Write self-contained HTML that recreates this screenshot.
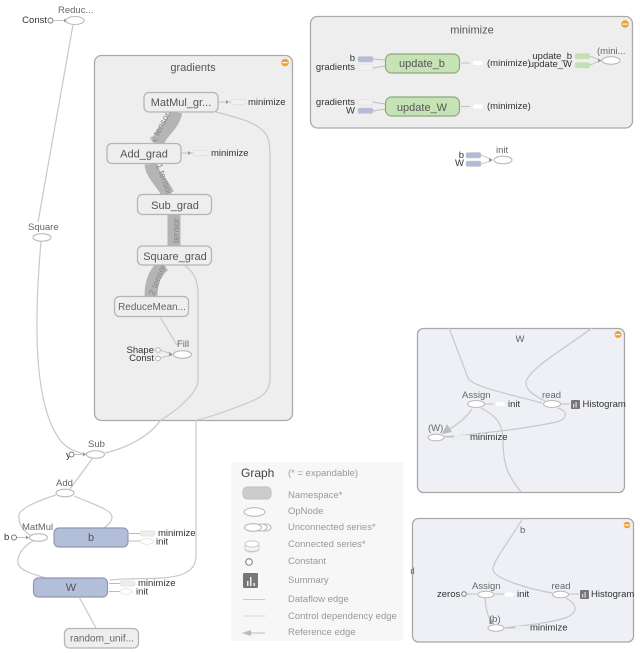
<!DOCTYPE html>
<html><head><meta charset="utf-8"><style>
html,body{margin:0;padding:0;background:#fff}
svg{display:block;filter:blur(.35px)}
text{font-family:"Liberation Sans",sans-serif;font-size:9.5px;fill:#333}
.g{fill:#666}.m{fill:#555;font-size:11px}.l{fill:#999;font-size:9.5px}
.e{fill:none;stroke:#c8c8c8;stroke-width:1.2}
.a{fill:none;stroke:#bbb;stroke-width:.9}
.o{fill:#fff;stroke:#bbb;stroke-width:1.1}
.c{fill:#fff;stroke:#777;stroke-width:1}
.n{fill:#eee;stroke:#b5b5b5;stroke-width:1.3}
.blue{fill:#b3bfd9;stroke:#9099b5;stroke-width:1.2}
.green{fill:#c6e3b5;stroke:#8fa87f;stroke-width:1.2}
.sb{fill:#b3bbd6;stroke:#c5cadb;stroke-width:.5}
.sg{fill:#c3e0b2;stroke:#d0e5c5;stroke-width:.5}
.se{fill:#f1f1f1;stroke:#ddd;stroke-width:.7}
.t{fill:none;stroke:#b4b4b4;stroke-width:13}
.tt{fill:#888;font-size:9px}
.h{fill:#999}
</style></head><body>
<svg width="640" height="653" viewBox="0 0 640 653" xmlns="http://www.w3.org/2000/svg">
<rect width="640" height="653" fill="#fff"/>

<!-- gradients box -->
<rect x="94.500" y="55.500" width="198" height="365" rx="7" fill="#eee" stroke="#aaa" stroke-width="1.300"/>
<text x="193" y="71" class="m" text-anchor="middle">gradients</text>
<circle cx="285" cy="62.500" r="3.800" fill="#f0a030"/><rect x="282.500" y="62" width="5" height="1.200" fill="#fff"/>

<!-- top-left -->
<text x="47" y="23" text-anchor="end">Const</text>
<circle cx="50.500" cy="20.500" r="2.500" class="c"/>
<path d="M53 20.500H64" class="a"/><path d="M64 18.500l3 2-3 2z" class="h"/>
<ellipse cx="75" cy="20.500" rx="9" ry="4" class="o"/>
<text x="58" y="13" class="g">Reduc...</text>
<path d="M73 25L38 222" class="e"/>
<text x="28" y="230" class="g">Square</text>
<ellipse cx="42" cy="237.500" rx="9" ry="3.800" class="o"/>
<path d="M41 241C36 300 30 400 60 440C68 450 78 453 87 454" class="e"/>
<path d="M105 453C130 447 150 435 160 421" class="e"/>

<!-- thick edges -->
<path d="M176 112C172 128 160 132 158 143" class="t"/>
<path d="M151 164C152 175 162 182 168 194" class="t"/>
<path d="M174 215V246" class="t"/>
<path d="M164 265C155 272 151 282 151 296" class="t"/>
<text transform="translate(155 143) rotate(-62)" class="tt">2 tensors</text>
<text transform="translate(156 165) rotate(70)" class="tt">1 tensor</text>
<text transform="translate(179 243) rotate(-90)" class="tt">tensor</text>
<text transform="translate(154 296) rotate(-68)" class="tt">2 tensors</text>

<!-- gradient nodes -->
<rect x="144" y="92.500" width="74" height="19.500" rx="5" class="n"/>
<text x="181" y="106" class="m" text-anchor="middle">MatMul_gr...</text>
<rect x="107" y="143.500" width="74" height="20" rx="5" class="n"/>
<text x="144" y="157.500" class="m" text-anchor="middle">Add_grad</text>
<rect x="137.500" y="194.500" width="74" height="20" rx="5" class="n"/>
<text x="175" y="209" class="m" text-anchor="middle">Sub_grad</text>
<rect x="137.500" y="246" width="74" height="19" rx="5" class="n"/>
<text x="175" y="260" class="m" text-anchor="middle">Square_grad</text>
<rect x="114.500" y="296.500" width="74" height="20" rx="5" class="n"/>
<text x="152" y="310" class="g" style="font-size:10px" text-anchor="middle">ReduceMean...</text>

<path d="M218 102H231" class="a"/><path d="M226 100l3 2-3 2z" class="h"/>
<rect x="231" y="99.500" width="14" height="5" rx="1.500" class="se"/>
<text x="248" y="105">minimize</text>
<path d="M181 153H193" class="a"/><path d="M188 151l3 2-3 2z" class="h"/>
<rect x="194" y="150.500" width="14" height="5" rx="1.500" class="se"/>
<text x="211" y="156">minimize</text>

<path d="M216 112C235 117 257 122 265 133C269 138 270 145 270 155V378C270 392 262 397 250 402C230 410 210 417 197 420" class="e"/>
<path d="M184 265C195 272 198 282 198 295V380C198 392 180 408 160 421" class="e"/>
<path d="M160 317L177 345" class="e"/>
<text x="177" y="347" class="g">Fill</text>
<text x="154" y="353" text-anchor="end">Shape</text>
<text x="154" y="361" text-anchor="end">Const</text>
<circle cx="158" cy="350" r="2.300" class="o"/><circle cx="158" cy="358.500" r="2.300" class="o"/>
<path d="M160 350L172 354M160 358L172 355" class="a"/><path d="M169 352l4 2.500-4 2z" class="h"/>
<ellipse cx="182.500" cy="354.500" rx="9" ry="3.800" class="o"/>

<!-- Sub/Add -->
<path d="M196 420V555C196 565 192 570 183 574C165 581 135 577 110 580" class="e"/>
<text x="88" y="447" class="g">Sub</text>
<text x="66" y="458">y</text>
<circle cx="71.500" cy="454.500" r="2.500" class="c"/>
<path d="M74 454.500H85" class="a"/><path d="M83 452.500l3 2-3 2z" class="h"/>
<ellipse cx="95.500" cy="454.500" rx="9" ry="3.800" class="o"/>
<path d="M92 459L70 489" class="e"/>
<text x="56" y="486" class="g">Add</text>
<ellipse cx="65" cy="493" rx="9" ry="3.800" class="o"/>
<path d="M56 495C40 500 20 508 19 515C18 522 22 530 30 535" class="e"/>
<path d="M74 496C95 505 112 510 112 517C112 522 108 525 104 528" class="e"/>
<text x="22" y="530" class="g">MatMul</text>
<text x="4" y="540">b</text>
<circle cx="14" cy="537.500" r="2.500" class="c"/>
<path d="M17 537.500H28" class="a"/><path d="M26 535.500l3 2-3 2z" class="h"/>
<ellipse cx="38.500" cy="537.500" rx="9" ry="3.800" class="o"/>
<path d="M33 541C22 547 17 556 18 563C19 570 32 574 46 578" class="e"/>

<rect x="54" y="528" width="74" height="19" rx="5" class="blue"/>
<text x="91" y="541" class="m" text-anchor="middle">b</text>
<path d="M129 533.500H140M129 541H140" class="a"/>
<rect x="140" y="531" width="15" height="5" rx="2" fill="#eee" stroke="#ddd" stroke-width=".7"/>
<ellipse cx="147" cy="541.500" rx="6.500" ry="2.800" fill="#fff" stroke="#ddd" stroke-width=".7"/>
<text x="158" y="536">minimize</text>
<text x="156" y="544.500">init</text>

<rect x="33.500" y="578" width="74" height="19" rx="5" class="blue"/>
<text x="71" y="591" class="m" text-anchor="middle">W</text>
<path d="M109 583.500H120M109 591.500H120" class="a"/>
<rect x="120" y="581" width="15" height="5" rx="2" fill="#eee" stroke="#ddd" stroke-width=".7"/>
<ellipse cx="126" cy="591.500" rx="6" ry="2.800" fill="#fff" stroke="#ddd" stroke-width=".7"/>
<text x="138" y="586">minimize</text>
<text x="136" y="594.500">init</text>
<path d="M79 597L96 628" class="e"/>
<rect x="64.500" y="628.500" width="74" height="19.500" rx="5" class="n"/>
<text x="102" y="641.500" class="g" style="font-size:10px" text-anchor="middle">random_unif...</text>

<!-- minimize -->
<rect x="310.500" y="16.500" width="322" height="111.500" rx="7" fill="#eee" stroke="#aaa" stroke-width="1.300"/>
<text x="472" y="33.500" class="m" text-anchor="middle">minimize</text>
<circle cx="625" cy="24" r="3.800" fill="#f0a030"/><rect x="622.500" y="23.500" width="5" height="1.200" fill="#fff"/>
<text x="355" y="61" text-anchor="end">b</text>
<text x="355" y="70" text-anchor="end">gradients</text>
<rect x="358" y="56.500" width="15" height="5.500" rx="1.500" class="sb"/>
<rect x="358" y="65" width="15" height="5.500" rx="1.500" fill="#f1f1f1" stroke="#ddd" stroke-width=".6"/>
<path d="M373 59L385 60M373 68L385 66" class="a"/>
<rect x="385.500" y="54" width="74" height="19" rx="6" class="green"/>
<text x="422" y="67" class="m" text-anchor="middle">update_b</text>
<path d="M461 63H470" class="a"/>
<rect x="473" y="61" width="10" height="4" rx="2" fill="#fff"/>
<text x="487" y="66">(minimize)</text>
<text x="572" y="59" text-anchor="end">update_b</text>
<text x="572" y="67" text-anchor="end">update_W</text>
<rect x="575" y="53.500" width="15" height="5.500" rx="1.500" class="sg"/>
<rect x="575" y="62.500" width="15" height="5.500" rx="1.500" class="sg"/>
<path d="M590 56L600 60M590 65L600 61" class="a"/><path d="M598 58.500l4 2-4 2z" fill="#999"/>
<ellipse cx="611" cy="60.500" rx="9" ry="3.800" class="o"/>
<text x="597" y="54" class="g">(mini...</text>

<text x="355" y="105" text-anchor="end">gradients</text>
<text x="355" y="113.500" text-anchor="end">W</text>
<rect x="358" y="99.500" width="15" height="5.500" rx="1.500" fill="#f1f1f1" stroke="#ddd" stroke-width=".6"/>
<rect x="358" y="108" width="15" height="5.500" rx="1.500" class="sb"/>
<path d="M373 102L385 104M373 111L385 109" class="a"/>
<rect x="385.500" y="97" width="74" height="19" rx="6" class="green"/>
<text x="422" y="111" class="m" text-anchor="middle">update_W</text>
<path d="M461 106.500H470" class="a"/>
<rect x="473" y="104.500" width="10" height="4" rx="2" fill="#fff"/>
<text x="487" y="109">(minimize)</text>

<!-- init -->
<text x="464" y="158" text-anchor="end">b</text>
<text x="464" y="166" text-anchor="end">W</text>
<rect x="466" y="152.500" width="15" height="5.500" rx="1.500" class="sb"/>
<rect x="466" y="161" width="15" height="5.500" rx="1.500" class="sb"/>
<path d="M481 155L491 159M481 164L491 161" class="a"/><path d="M489 158l4 2-4 2z" fill="#999"/>
<ellipse cx="503" cy="160" rx="9" ry="3.800" class="o"/>
<text x="496" y="153" class="g">init</text>

<!-- W box -->
<rect x="417.500" y="328.500" width="207" height="164" rx="6" fill="#eef0f5" stroke="#a8a8a8" stroke-width="1.300"/>
<text x="520" y="342" class="g" text-anchor="middle">W</text>
<circle cx="618" cy="334.500" r="3.500" fill="#f0a030"/><rect x="615.500" y="334" width="5" height="1.200" fill="#fff"/>
<path d="M449 328L468 378C472 386 500 392 542 403" class="e"/>
<path d="M592 328C570 345 526 370 526 383C526 392 538 397 545 401" class="e"/>
<text x="462" y="398" class="g">Assign</text>
<ellipse cx="476" cy="404" rx="8.500" ry="3.500" class="o"/>
<path d="M485 404H494" class="a"/><rect x="496" y="402" width="9" height="4" rx="2" fill="#fff"/>
<text x="508" y="407">init</text>
<text x="542" y="398" class="g">read</text>
<ellipse cx="552" cy="404" rx="8.500" ry="3.500" class="o"/>
<path d="M561 404H570" class="a"/><rect x="571" y="400" width="9" height="9" rx="1" fill="#777"/>
<rect x="573" y="404" width="1.200" height="3.500" fill="#ddd"/><rect x="575.500" y="402" width="1.200" height="5.500" fill="#ddd"/>
<text x="582.500" y="407">Histogram</text>
<path d="M472 409C465 420 452 428 443 433" class="e"/>
<path d="M481 408C497 416 503 425 503 440C503 468 510 478 521 492" class="e"/>
<path d="M558 408C570 412 566 420 556 422C530 428 480 434 443 437" class="e"/>
<path d="M447 424l-5 10 10-2z" fill="#bbb"/>
<text x="428" y="431" class="g">(W)</text>
<ellipse cx="436" cy="437.500" rx="8" ry="3.300" class="o"/>
<path d="M445 437H454" class="a"/>
<rect x="454" y="435" width="14" height="5" rx="1.500" fill="#ecedf0"/>
<text x="470" y="440">minimize</text>

<!-- b box -->
<rect x="412.500" y="518.500" width="221" height="123.500" rx="6" fill="#eef0f5" stroke="#a8a8a8" stroke-width="1.300"/>
<text x="520" y="533" class="g">b</text>
<circle cx="627" cy="525" r="3.300" fill="#f0a030"/><rect x="624.500" y="524.500" width="5" height="1.200" fill="#fff"/>
<path d="M523 518C510 540 492 562 493 570C495 580 535 590 552 593" class="e"/>
<text x="410" y="574" class="g">ıl</text>
<text x="437" y="597">zeros</text>
<circle cx="464" cy="594" r="2.300" class="c"/>
<path d="M467 594H477" class="a"/>
<text x="472" y="589" class="g">Assign</text>
<ellipse cx="486" cy="594.500" rx="8" ry="3.300" class="o"/>
<path d="M495 594H504" class="a"/><rect x="505" y="592.500" width="9" height="4" rx="2" fill="#fff"/>
<text x="517" y="597">init</text>
<text x="551.500" y="589" class="g">read</text>
<ellipse cx="560.500" cy="594.500" rx="8" ry="3.300" class="o"/>
<path d="M569 594H579" class="a"/><rect x="580" y="590" width="9" height="9" rx="1" fill="#777"/>
<rect x="582" y="594" width="1.200" height="3.500" fill="#ddd"/><rect x="584.500" y="592" width="1.200" height="5.500" fill="#ddd"/>
<text x="591" y="597">Histogram</text>
<path d="M485 598C486 610 488 618 492 622" class="e"/>
<path d="M566 598C580 606 576 614 565 618C545 624 525 625 505 628" class="e"/>
<path d="M490 616l-1 8 5 0z" fill="#aaa"/>
<text x="489" y="622" class="g">(b)</text>
<ellipse cx="496" cy="628" rx="8" ry="3.300" class="o"/>
<path d="M505 628H515" class="a"/>
<rect x="516" y="626" width="13" height="5" rx="1.500" fill="#ecedf0"/>
<text x="530" y="630.500">minimize</text>

<!-- legend -->
<rect x="231" y="462" width="172" height="179" fill="#f7f7f7"/>
<text x="241" y="477" style="font-size:12px;fill:#444">Graph</text>
<text x="288" y="476" class="l">(* = expandable)</text>
<rect x="243" y="487" width="28" height="12" rx="4" fill="#ccc" stroke="#c0c0c0"/>
<text x="288" y="498" class="l">Namespace*</text>
<ellipse cx="254.500" cy="512" rx="10.500" ry="4.300" class="o"/>
<text x="288" y="514" class="l">OpNode</text>
<ellipse cx="265" cy="527.500" rx="6" ry="3.500" class="o"/>
<ellipse cx="261" cy="527.500" rx="6" ry="3.500" class="o"/>
<ellipse cx="253" cy="527.500" rx="8.500" ry="3.800" class="o"/>
<text x="288" y="530" class="l">Unconnected series*</text>
<ellipse cx="252" cy="544" rx="7" ry="3.200" class="o" style="stroke:#ccc"/>
<path d="M245 544v5c1 4 13 4 14 0v-5M245 549c1 3 13 3 14 0" fill="none" stroke="#ccc"/>
<text x="288" y="547" class="l">Connected series*</text>
<circle cx="249" cy="562" r="3.300" class="c"/>
<text x="288" y="564" class="l">Constant</text>
<rect x="243" y="573" width="15" height="15" rx="1.500" fill="#777"/>
<rect x="247" y="581" width="1.500" height="5" fill="#eee"/><rect x="250" y="577" width="1.500" height="9" fill="#eee"/><rect x="253.500" y="583" width="1.500" height="3" fill="#eee"/>
<text x="288" y="583" class="l">Summary</text>
<path d="M243 599.500H265" stroke="#ccc" fill="none"/>
<text x="288" y="602" class="l">Dataflow edge</text>
<path d="M243 616H265" stroke="#ccc" fill="none" stroke-dasharray="2 1"/>
<text x="288" y="619" class="l">Control dependency edge</text>
<path d="M250 633H265" stroke="#bbb" fill="none"/><path d="M242 633l9-3v6z" fill="#bbb"/>
<text x="288" y="635" class="l">Reference edge</text>
</svg>
</body></html>
